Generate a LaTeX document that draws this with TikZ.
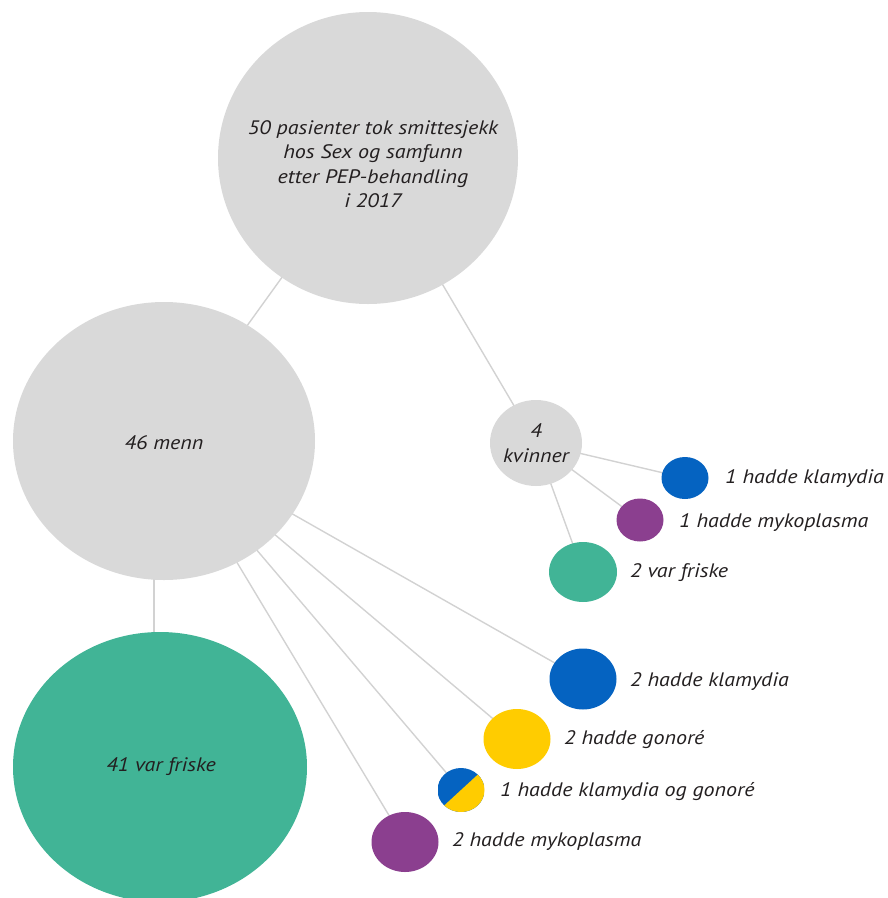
\documentclass[tikz,border=0pt]{standalone}
\usepackage{fontspec}
\setmainfont{PT Sans}[FakeStretch=1.13]
\usetikzlibrary{shapes.geometric,backgrounds,calc}
\definecolor{cgray}{HTML}{D9D9D9}
\definecolor{cline}{HTML}{D2D2D2}
\definecolor{cgreen}{HTML}{41B496}
\definecolor{cblue}{HTML}{0563C1}
\definecolor{cpurple}{HTML}{8B3F8F}
\definecolor{cyellow}{HTML}{FFCC00}
\definecolor{ctext}{HTML}{231F20}
\begin{document}
\begin{tikzpicture}[x=1pt,y=-1pt,
  blob/.style={ellipse, inner sep=0pt, draw=none},
  txt/.style={inner sep=0pt, font=\fontsize{19.5}{24.5}\selectfont\itshape, text=ctext, align=center},
  lbl/.style={txt, anchor=west},
  link/.style={draw=cline, line width=1.4pt}]
\useasboundingbox (0,0) rectangle (888,898);
% big nodes
\node[blob, fill=cgray, minimum width=300, minimum height=292] (top) at (368,158) {};
\node[txt] (toptext) at (373,164) {50 pasienter tok smittesjekk\\hos Sex og samfunn\\etter PEP-behandling\\i 2017};
\node[blob, fill=cgray, minimum width=302, minimum height=278] (men) at (164,441) {};
\node[txt] (mentext) at (164,443) {46 menn};
\node[blob, fill=cgreen, minimum width=294, minimum height=270] (f41) at (160,767) {};
\node[txt] (f41text) at (161,767) {41 var friske};
\node[blob, fill=cgray, minimum width=92, minimum height=86] (kv) at (536,443) {};
\node[txt] (kvtext) at (536,443) {4\\kvinner};
% women's children
\node[blob, fill=cblue, minimum width=47, minimum height=42] (wk) at (685,478) {};
\node[lbl] (wktext) at (725,479) {1 hadde klamydia};
\node[blob, fill=cpurple, minimum width=47, minimum height=43] (wm) at (640,520) {};
\node[lbl] (wmtext) at (679,523) {1 hadde mykoplasma};
\node[blob, fill=cgreen, minimum width=68, minimum height=60] (wf) at (583,572) {};
\node[lbl] (wftext) at (630,573) {2 var friske};
% men's children
\node[blob, fill=cblue, minimum width=67, minimum height=61] (mk) at (583,679) {};
\node[lbl] (mktext) at (630,682) {2 hadde klamydia};
\node[blob, fill=cyellow, minimum width=67, minimum height=60] (mg) at (517,739) {};
\node[lbl] (mgtext) at (564,740) {2 hadde gonoré};
\node[blob, minimum width=47, minimum height=44,
  path picture={
    \fill[cblue] (path picture bounding box.south west) rectangle (path picture bounding box.north east);
    \fill[cyellow] ($(path picture bounding box.center)+(-50,46)$) -- ($(path picture bounding box.center)+(50,-46)$)
      -- ($(path picture bounding box.center)+(100,10)$) -- ($(path picture bounding box.center)+(0,100)$) -- cycle;
  }] (mkg) at (461,790) {};
\node[lbl] (mkgtext) at (500,792) {1 hadde klamydia og gonoré};
\node[blob, fill=cpurple, minimum width=67, minimum height=60] (mm) at (405,842) {};
\node[lbl] (mmtext) at (452,842) {2 hadde mykoplasma};
% connectors
\begin{scope}[on background layer]
\draw[link] (top.center) -- (men.center);
\draw[link] (top.center) -- (kv.center);
\draw[link] ([xshift=-10pt]men.center) -- ([xshift=-6pt]f41.center);
\draw[link] (men.center) -- (mk.center);
\draw[link] (men.center) -- (mg.center);
\draw[link] (men.center) -- (mkg.center);
\draw[link] (men.center) -- (mm.center);
\draw[link] (kv.center) -- (wk.center);
\draw[link] (kv.center) -- (wm.center);
\draw[link] (kv.center) -- (wf.center);
\end{scope}
\end{tikzpicture}
\end{document}
